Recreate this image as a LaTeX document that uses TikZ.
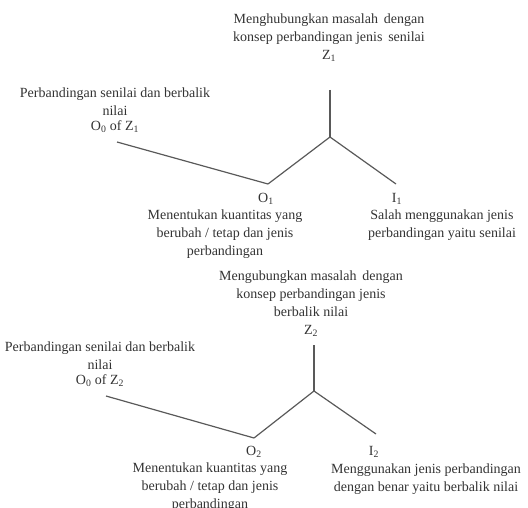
\documentclass[tikz,border=0pt]{standalone}
\usepackage{fontspec}
\setmainfont{Liberation Serif}
\begin{document}
\begin{tikzpicture}[x=1pt,y=-1pt,
  txt/.style={align=center,inner sep=0pt,text=black!80,font=\fontsize{14}{18}\selectfont},
  conn/.style={draw=black!65,line width=1.2pt}]
\useasboundingbox (0,0) rectangle (528,508);
% block 1
\node[txt] (z1) at (329,38) {Menghubungkan masalah\, dengan\\konsep perbandingan jenis\, senilai\\Z\textsubscript{1}};
\node[txt] (l1) at (115,110) {Perbandingan senilai dan berbalik\\nilai\\[-3pt]O\textsubscript{0} of Z\textsubscript{1}};
\node[txt] (o1) at (266,199) {O\textsubscript{1}};
\node[txt] (o1d) at (225,234) {Menentukan kuantitas yang\\berubah / tetap dan jenis\\perbandingan};
\node[txt] (i1) at (397,199) {I\textsubscript{1}};
\node[txt] (i1d) at (442,225) {Salah menggunakan jenis\\perbandingan yaitu senilai};
\coordinate (t1) at (330,90);
\coordinate (j1) at (330,137);
\coordinate (po1) at (268,184);
\coordinate (pi1) at (396,184);
\coordinate (pl1) at (117,142);
\draw[conn] (t1) -- (j1);
\draw[conn] (j1) -- (po1);
\draw[conn] (j1) -- (pi1);
\draw[conn] (pl1) -- (po1);
% block 2
\node[txt] (z2) at (311,304) {Mengubungkan masalah\, dengan\\konsep perbandingan jenis\\berbalik nilai\\Z\textsubscript{2}};
\node[txt] (l2) at (100,364) {Perbandingan senilai dan berbalik\\nilai\\[-3pt]O\textsubscript{0} of Z\textsubscript{2}};
\node[txt] (o2) at (254,452) {O\textsubscript{2}};
\node[txt] (o2d) at (210,487) {Menentukan kuantitas yang\\berubah / tetap dan jenis\\perbandingan};
\node[txt] (i2) at (374,452) {I\textsubscript{2}};
\node[txt] (i2d) at (426,479) {Menggunakan jenis perbandingan\\dengan benar yaitu berbalik nilai};
\coordinate (t2) at (314,345);
\coordinate (j2) at (314,391);
\coordinate (po2) at (254,438);
\coordinate (pi2) at (376,434);
\coordinate (pl2) at (106,396);
\draw[conn] (t2) -- (j2);
\draw[conn] (j2) -- (po2);
\draw[conn] (j2) -- (pi2);
\draw[conn] (pl2) -- (po2);
\end{tikzpicture}
\end{document}
